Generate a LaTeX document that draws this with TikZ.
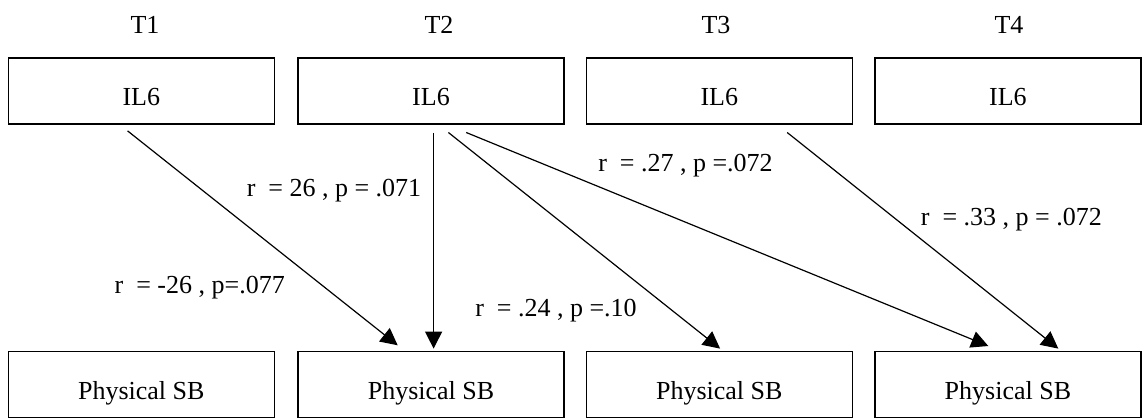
\documentclass[tikz,border=0pt]{standalone}
\usepackage{fontspec}
\setmainfont{Liberation Serif}
\usetikzlibrary{arrows.meta}
\begin{document}
\begin{tikzpicture}[x=1pt,y=-1pt,
  every node/.style={font=\fontsize{26}{30}\selectfont},
  box/.style={draw, line width=1.4pt, minimum width=266pt, minimum height=66pt, inner sep=0pt, text height=29pt, text depth=0pt},
  lbl/.style={anchor=base, inner sep=0pt},
  arr/.style={line width=1.2pt, -{Triangle[length=17pt,width=17pt]}}]
\useasboundingbox (0,0) rectangle (1144,418);
% time labels
\node[lbl] (h1) at (145,33) {T1};
\node[lbl] (h2) at (439,33) {T2};
\node[lbl] (h3) at (716,33) {T3};
\node[lbl] (h4) at (1009,33) {T4};
% top boxes
\node[box] (t1) at (141.3,90.8) {IL6};
\node[box] (t2) at (431,90.8) {IL6};
\node[box] (t3) at (719.3,90.8) {IL6};
\node[box] (t4) at (1007.9,90.8) {IL6};
% bottom boxes
\node[box] (b1) at (141.3,384.6) {Physical SB};
\node[box] (b2) at (431,384.6) {Physical SB};
\node[box] (b3) at (719.3,384.6) {Physical SB};
\node[box] (b4) at (1007.9,384.6) {Physical SB};
% arrows
\draw[arr] ([shift={(-13.7,6.4)}]t1.south) -- ([shift={(-33.3,-5.6)}]b2.north);
\draw[arr] ([shift={(2.6,8.4)}]t2.south) -- ([shift={(2.6,-2.3)}]b2.north);
\draw[arr] ([shift={(17.4,8)}]t2.south) -- ([shift={(0.8,-2.3)}]b3.north);
\draw[arr] ([shift={(35.2,8)}]t2.south) -- ([shift={(-19.6,-4.9)}]b4.north);
\draw[arr] ([shift={(67.9,8)}]t3.south) -- ([shift={(50.4,-2.3)}]b4.north);
% correlation labels
\node[lbl] (l1) at (334,196.7) {r~~= 26 , p = .071};
\node[lbl] (l2) at (199.7,293.3) {r~~= -26 , p=.077};
\node[lbl] (l3) at (556,316) {r~~= .24 , p =.10};
\node[lbl] (l4) at (685.5,171.7) {r~~= .27 , p =.072};
\node[lbl] (l5) at (1011.4,225) {r~~= .33 , p = .072};
\end{tikzpicture}
\end{document}
